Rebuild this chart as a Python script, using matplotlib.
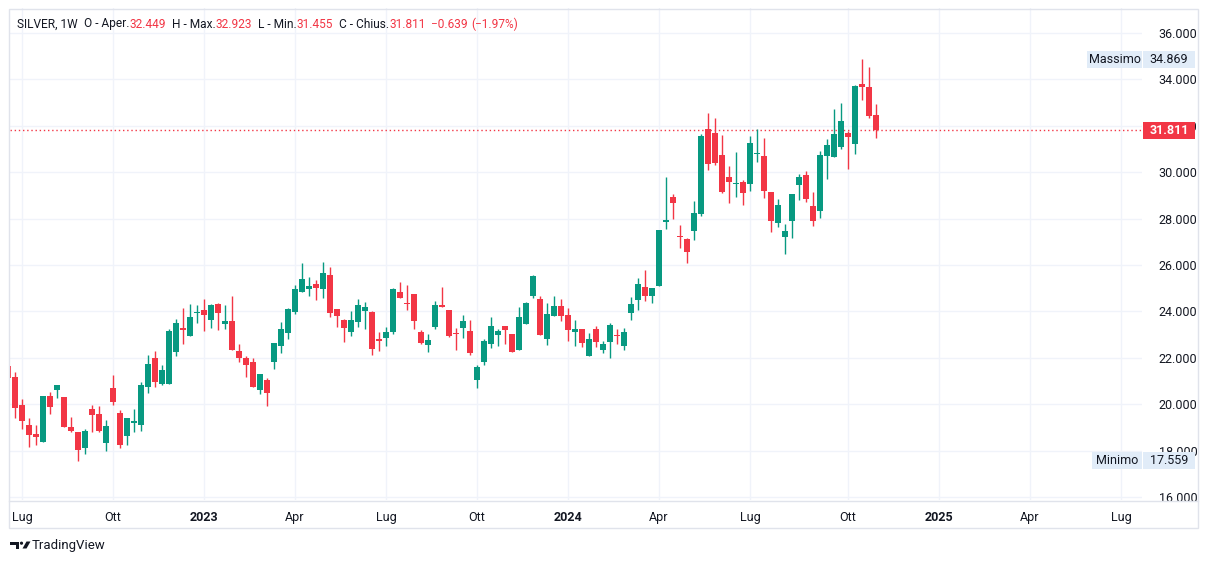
import matplotlib
matplotlib.use("Agg")
import matplotlib.pyplot as plt
import matplotlib.transforms as mtransforms
from matplotlib.patches import Rectangle, Polygon, Circle
import numpy as np
import pandas as pd

plt.rcParams['font.family'] = ['Roboto', 'DejaVu Sans']

# weekly bars of SILVER, first bar = week of 2022-06-20
first_week = "2022-06-20"
opens = [21.64, 21.19, 19.96, 19.09, 18.71, 18.35, 20.36, 20.62, 20.31, 19.00,
         18.79, 18.10, 19.79, 19.57, 18.32, 20.71, 19.61, 18.63, 19.19, 19.09,
         20.76, 21.97, 20.85, 20.89, 22.23, 23.28, 22.96, 23.91, 24.07, 23.61,
         24.33, 23.44, 23.60, 22.30, 22.01, 21.84, 20.63, 21.05, 21.80, 22.53,
         23.09, 23.96, 24.84, 24.97, 25.18, 24.97, 25.57, 24.11, 23.63, 23.12,
         23.55, 24.02, 23.98, 22.81, 22.86, 23.12, 24.84, 24.38, 24.75, 23.12,
         22.56, 23.32, 24.26, 24.04, 23.09, 23.28, 23.17, 21.06, 21.84, 22.58,
         22.97, 23.35, 23.04, 22.32, 23.45, 24.67, 24.52, 22.80, 23.80, 24.22,
         23.83, 23.10, 23.26, 22.07, 23.22, 22.33, 22.67, 23.00, 22.50, 23.92,
         24.48, 25.07, 24.66, 25.09, 27.84, 28.91, 27.27, 27.14, 27.46, 28.20,
         31.85, 31.68, 30.76, 29.80, 29.47, 29.59, 29.47, 30.78, 30.68, 29.15,
         27.81, 27.20, 27.90, 29.44, 29.90, 28.53, 28.31, 30.69, 30.65, 31.08,
         31.68, 31.21, 33.80, 33.67, 32.449]
highs = [21.80, 21.40, 20.23, 19.40, 19.09, 20.36, 20.53, 20.84, 20.31, 19.44,
         18.81, 18.92, 19.96, 19.92, 19.31, 21.27, 19.75, 19.40, 19.79, 20.94,
         22.12, 22.28, 21.70, 23.24, 23.68, 24.16, 24.33, 24.29, 24.55, 24.33,
         24.37, 24.29, 24.68, 22.60, 22.06, 21.99, 21.31, 21.12, 22.62, 23.55,
         24.16, 25.15, 26.09, 25.48, 25.35, 26.13, 25.91, 24.11, 23.68, 24.02,
         24.54, 24.41, 24.02, 23.12, 23.33, 25.01, 25.27, 25.14, 24.75, 23.20,
         23.03, 24.43, 25.04, 24.04, 23.30, 23.83, 23.61, 21.67, 22.83, 23.74,
         23.22, 23.35, 23.04, 24.17, 24.39, 25.58, 24.65, 24.36, 24.65, 24.52,
         24.13, 23.65, 23.26, 23.05, 23.35, 22.74, 23.52, 23.22, 23.30, 24.64,
         25.46, 25.80, 25.03, 27.53, 29.81, 29.04, 27.74, 27.18, 28.78, 31.64,
         32.55, 32.33, 31.59, 30.28, 30.89, 29.67, 31.55, 31.85, 31.46, 29.15,
         28.84, 27.75, 29.06, 29.94, 30.07, 29.16, 30.90, 31.43, 32.71, 32.97,
         31.76, 33.75, 34.869, 34.53, 32.923]
lows = [21.00, 19.41, 18.93, 18.15, 18.22, 18.35, 19.57, 20.27, 19.00, 18.81,
        17.559, 17.84, 18.80, 18.80, 17.97, 19.96, 18.10, 18.22, 18.80, 18.84,
        20.50, 20.76, 20.83, 20.89, 22.06, 22.58, 22.92, 23.48, 23.14, 23.27,
        23.18, 23.22, 22.32, 21.84, 21.19, 20.75, 20.46, 19.94, 21.50, 22.19,
        22.83, 23.90, 24.84, 24.67, 24.51, 24.58, 23.76, 23.33, 22.69, 22.94,
        23.33, 23.25, 22.13, 22.30, 22.51, 23.03, 24.58, 24.06, 23.25, 22.60,
        22.26, 23.23, 24.19, 22.88, 22.32, 22.84, 22.14, 20.71, 21.67, 22.41,
        22.49, 22.58, 22.23, 22.32, 23.45, 24.58, 22.97, 22.54, 23.80, 23.57,
        22.71, 22.49, 22.45, 22.07, 22.46, 22.20, 21.98, 22.59, 22.33, 23.62,
        24.05, 24.44, 24.35, 25.09, 27.57, 27.97, 26.72, 26.08, 27.07, 28.12,
        30.08, 30.30, 29.12, 28.68, 28.95, 28.60, 29.21, 30.43, 28.90, 27.42,
        27.64, 26.46, 27.16, 28.79, 28.70, 27.66, 28.01, 29.70, 30.65, 31.00,
        30.13, 30.78, 33.12, 32.34, 31.455]
closes = [21.13, 19.85, 19.28, 18.67, 18.58, 20.36, 19.89, 20.84, 19.00, 18.84,
          18.01, 18.83, 19.54, 18.84, 19.05, 20.11, 18.22, 19.40, 19.28, 20.84,
          21.75, 20.94, 21.48, 23.17, 23.51, 23.21, 23.77, 23.99, 23.83, 24.29,
          23.91, 23.60, 22.32, 22.01, 21.71, 20.75, 21.31, 20.50, 22.62, 23.25,
          24.12, 24.98, 25.40, 25.10, 25.01, 25.66, 23.93, 23.80, 23.29, 23.63,
          24.28, 24.19, 22.38, 22.73, 23.12, 24.97, 24.58, 24.34, 23.59, 22.64,
          22.77, 24.26, 24.19, 22.93, 23.01, 23.57, 22.19, 21.62, 22.74, 23.39,
          23.14, 23.19, 22.23, 23.74, 24.35, 25.52, 22.97, 23.87, 24.22, 23.80,
          23.19, 23.23, 22.62, 22.83, 22.67, 22.61, 23.43, 22.93, 23.13, 24.34,
          25.20, 24.66, 24.99, 27.53, 27.92, 28.66, 27.20, 26.55, 28.22, 31.55,
          30.34, 30.39, 29.16, 29.56, 29.54, 29.12, 31.24, 30.82, 29.21, 27.90,
          28.58, 27.45, 29.06, 29.81, 28.83, 27.88, 30.72, 31.16, 31.63, 32.19,
          31.52, 33.71, 33.68, 32.43, 31.811]
change = -0.639
change_pct = -1.97
price_ticks = [16, 18, 20, 22, 24, 26, 28, 30, 32, 34, 36]
month_names = {4: "Apr", 7: "Lug", 10: "Ott"}

UP = "#089981"
DOWN = "#F23645"
TXT = "#131722"
GRID = "#F0F3FA"
BORDER = "#E0E3EB"
TAG = "#E1ECF8"

W, H = 1209, 564
fig = plt.figure(figsize=(W / 100, H / 100), dpi=100)
fig.patch.set_facecolor("white")

# pixel geometry of the price pane
px_left, px_right, px_top, px_bottom = 10, 1142, 8, 500
bar_px, x0_px = 7.0, 22.0          # bar spacing, pixel of bar index 0
y36_px, unit_px = 33.0, 23.2       # pixel of 36.000, pixels per 1.0

ax = fig.add_axes([px_left / W, 1 - px_bottom / H,
                   (px_right - px_left) / W, (px_bottom - px_top) / H])
ax.set_xlim((px_left - x0_px) / bar_px, (px_right - x0_px) / bar_px)
ax.set_ylim(36 - (px_bottom - y36_px) / unit_px, 36 + (y36_px - px_top) / unit_px)

o = np.array(opens); h = np.array(highs); l = np.array(lows); c = np.array(closes)
x = np.arange(len(o)) - 2
col = np.where(c >= o, UP, DOWN)
ax.vlines(x, l, h, colors=col, linewidth=1, zorder=3)
body_lo = np.minimum(o, c)
body_h = np.maximum(np.abs(c - o), 1.0 / unit_px)
ax.bar(x, body_h, bottom=body_lo, width=0.72, color=col, linewidth=0, zorder=4)

# time axis ticks: first weekly bar of each quarter month
weeks = pd.date_range(first_week, "2025-09-30", freq="W-MON")
pos = np.arange(len(weeks)) - 2
tick_pos, tick_lab, tick_bold = [], [], []
seen = set()
for p, d in zip(pos, weeks):
    if d.month in (1, 4, 7, 10) and (d.year, d.month) not in seen:
        seen.add((d.year, d.month))
        tick_pos.append(p)
        tick_lab.append(str(d.year) if d.month == 1 else month_names[d.month])
        tick_bold.append(d.month == 1)
ax.set_xticks(tick_pos)
ax.set_xticklabels(tick_lab)
for t, b in zip(ax.get_xticklabels(), tick_bold):
    t.set_fontweight("bold" if b else "normal")
ax.tick_params(axis="x", length=0, pad=8, labelsize=9, labelcolor=TXT)

ax.yaxis.tick_right()
ax.set_yticks(price_ticks)
ax.set_yticklabels([f"{v:.3f}" for v in price_ticks])
ax.tick_params(axis="y", length=0, pad=12, labelsize=9, labelcolor=TXT)

ax.grid(True, color=GRID, linewidth=1, zorder=0)
ax.set_axisbelow(True)
for s in ax.spines.values():
    s.set_visible(False)

last_close = closes[-1]
ax.axhline(last_close, color=DOWN, linewidth=1, linestyle=(0, (1, 2)), zorder=2)

# overlay in figure pixels (y down)
ov = fig.add_axes([0, 0, 1, 1], zorder=5)
ov.set_xlim(0, W)
ov.set_ylim(H, 0)
ov.axis("off")
ov.patch.set_visible(False)

ov.add_patch(Rectangle((8.5, 8.5), 1198 - 8.5, 528 - 8.5, fill=False,
                       edgecolor=BORDER, linewidth=1))
ov.plot([8.5, 1198], [500.5, 500.5], color=BORDER, linewidth=1)

blend = mtransforms.blended_transform_factory(ov.transData, ax.transData)
hpx = 17 / unit_px


def price_tag(price, text, fc, tc, bold=False, side_label=None, label_x0=None):
    ov.add_patch(Rectangle((1143, price - hpx / 2), 52, hpx, transform=blend,
                           facecolor=fc, edgecolor="none", zorder=6))
    ov.text(1169, price, text, transform=blend, ha="center", va="center",
            fontsize=9, color=tc, fontweight="bold" if bold else "normal", zorder=7)
    if side_label:
        ov.add_patch(Rectangle((label_x0, price - hpx / 2), 1142 - label_x0, hpx,
                               transform=blend, facecolor=fc, edgecolor="none", zorder=6))
        ov.text((label_x0 + 1142) / 2, price, side_label, transform=blend,
                ha="center", va="center", fontsize=9, color=tc, zorder=7)


price_tag(max(highs), f"{max(highs):.3f}", TAG, TXT, side_label="Massimo", label_x0=1087)
price_tag(min(lows), f"{min(lows):.3f}", TAG, TXT, side_label="Minimo", label_x0=1092)
price_tag(last_close, f"{last_close:.3f}", DOWN, "white", bold=True)

# legend line
pieces = [("SILVER, 1W", TXT, 6), ("O - Aper.", TXT, 0), (f"{opens[-1]:.3f}", DOWN, 6),
          ("H - Max.", TXT, 0), (f"{highs[-1]:.3f}", DOWN, 6),
          ("L - Min.", TXT, 0), (f"{lows[-1]:.3f}", DOWN, 6),
          ("C - Chius.", TXT, 0), (f"{closes[-1]:.3f}", DOWN, 6),
          (f"\u2212{abs(change):.3f}", DOWN, 3), (f"(\u2212{abs(change_pct):.2f}%)", DOWN, 0)]
renderer = fig.canvas.get_renderer()
xpos = 17
for s, colr, gap in pieces:
    t = ov.text(xpos, 24, s, fontsize=8.6, color=colr, va="center", ha="left")
    bb = t.get_window_extent(renderer)
    xpos = bb.x1 + gap

# TradingView logo
ov.add_patch(Polygon([(10, 541.5), (19, 541.5), (19, 548.5), (15.5, 548.5),
                      (15.5, 545), (10, 545)], closed=True, color=TXT, linewidth=0))
ov.add_patch(Circle((21.5, 543.2), 1.6, color=TXT, linewidth=0))
ov.add_patch(Polygon([(26.5, 541.5), (30.5, 541.5), (26.5, 548.5), (22.5, 548.5)],
                     closed=True, color=TXT, linewidth=0))
ov.text(32, 546, "TradingView", fontsize=9.5, color=TXT, va="center", ha="left")

fig.savefig("out.png", dpi=100)
